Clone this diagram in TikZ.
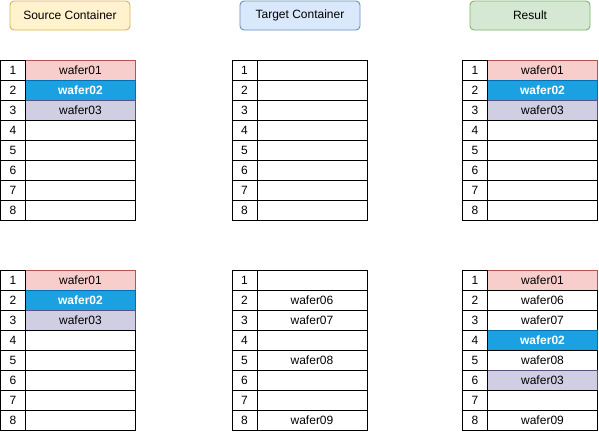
\documentclass[tikz,border=0pt]{standalone}
\usepackage{fontspec}
\setmainfont{Liberation Sans}
\definecolor{srcfill}{HTML}{FFF2CC}
\definecolor{srcline}{HTML}{D6B656}
\definecolor{tgtfill}{HTML}{DAE8FC}
\definecolor{tgtline}{HTML}{6C8EBF}
\definecolor{resfill}{HTML}{D5E8D4}
\definecolor{resline}{HTML}{82B366}
\definecolor{redfill}{HTML}{F8CECC}
\definecolor{redline}{HTML}{B85450}
\definecolor{bluefill}{HTML}{1BA1E2}
\definecolor{blueline}{HTML}{006EAF}
\definecolor{lavfill}{HTML}{D0CEE2}
\definecolor{lavline}{HTML}{56517E}
\tikzset{
  hdr/.style={rounded corners=4pt, minimum width=120pt, minimum height=29pt,
              inner sep=0pt, line width=0.9pt, font=\fontsize{12}{14}\selectfont},
  hsrc/.style={hdr, draw=srcline, fill=srcfill},
  htgt/.style={hdr, draw=tgtline, fill=tgtfill},
  hres/.style={hdr, draw=resline, fill=resfill},
  numcell/.style={draw=black, fill=white, minimum width=25pt, minimum height=20pt,
                  inner sep=0pt, outer sep=0pt, line width=0.9pt,
                  font=\fontsize{12}{14}\selectfont},
  wcell/.style={numcell, minimum width=110pt},                 % empty slot
  wred/.style={wcell, draw=redline, fill=redfill},              % wafer01
  wblue/.style={wcell, draw=blueline, fill=bluefill, text=white,
                font=\fontsize{12}{14}\selectfont\bfseries},    % wafer02
  wlav/.style={wcell, draw=lavline, fill=lavfill},              % wafer03
}
\begin{document}
\begin{tikzpicture}[x=1pt, y=-1pt]
  \useasboundingbox (0,0) rectangle (599,431);
  % headers
  \node[hsrc] (hS) at (70,15.5)  {Source Container};
  \node[htgt] (hT) at (300,15.5) {Target Container};
  \node[hres] (hR) at (530,15.5) {Result};
  % top row of tables
  \foreach \i/\w/\s in {1/wafer01/wred,2/wafer02/wblue,3/wafer03/wlav,4//wcell,5//wcell,6//wcell,7//wcell,8//wcell} {
    \node[\s] (sa-w\i) at (80.5,{50+20*\i}) {\w};
    \node[numcell] (sa-n\i) at (13,{50+20*\i}) {\i};
  }
  \foreach \i in {1,...,8} {
    \node[wcell] (ta-w\i) at (312,{50+20*\i}) {};
    \node[numcell] (ta-n\i) at (244.5,{50+20*\i}) {\i};
  }
  \foreach \i/\w/\s in {1/wafer01/wred,2/wafer02/wblue,3/wafer03/wlav,4//wcell,5//wcell,6//wcell,7//wcell,8//wcell} {
    \node[\s] (ra-w\i) at (542.5,{50+20*\i}) {\w};
    \node[numcell] (ra-n\i) at (475,{50+20*\i}) {\i};
  }
  % bottom row of tables
  \foreach \i/\w/\s in {1/wafer01/wred,2/wafer02/wblue,3/wafer03/wlav,4//wcell,5//wcell,6//wcell,7//wcell,8//wcell} {
    \node[\s] (sb-w\i) at (80.5,{260+20*\i}) {\w};
    \node[numcell] (sb-n\i) at (13,{260+20*\i}) {\i};
  }
  \foreach \i/\w in {1/,2/wafer06,3/wafer07,4/,5/wafer08,6/,7/,8/wafer09} {
    \node[wcell] (tb-w\i) at (312,{260+20*\i}) {\w};
    \node[numcell] (tb-n\i) at (244.5,{260+20*\i}) {\i};
  }
  \foreach \i/\w/\s in {1/wafer01/wred,2/wafer06/wcell,3/wafer07/wcell,4/wafer02/wblue,5/wafer08/wcell,6/wafer03/wlav,7//wcell,8/wafer09/wcell} {
    \node[\s] (rb-w\i) at (542.5,{260+20*\i}) {\w};
    \node[numcell] (rb-n\i) at (475,{260+20*\i}) {\i};
  }
\end{tikzpicture}
\end{document}
